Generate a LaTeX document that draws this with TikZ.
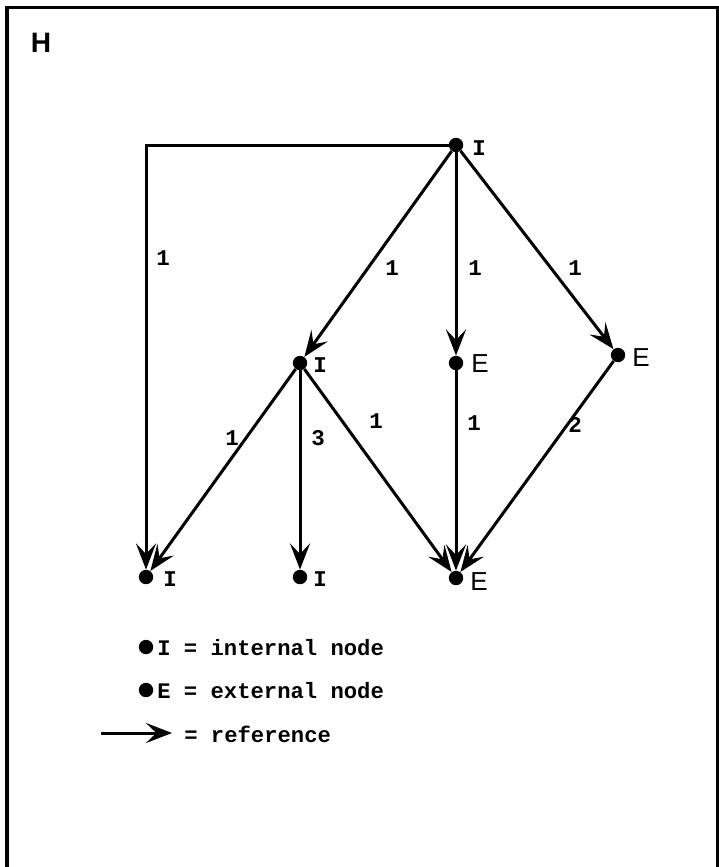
\documentclass[tikz,border=0pt]{standalone}
\usepackage{fontspec}
\setmainfont{Liberation Sans}
\setmonofont{Liberation Mono}
\usetikzlibrary{arrows.meta}
\tikzset{
  frame/.style={line width=0.075cm,draw=black},
  refline/.style={-{Stealth[length=6.5mm,width=5mm,inset=2.6mm]},line width=0.075cm,draw=black},
  vertex/.style={circle,fill=black,inner sep=0pt,minimum size=0.36cm},
  intlab/.style={inner sep=0pt,font=\ttfamily\bfseries\fontsize{16}{18}\selectfont},
  extlab/.style={inner sep=0pt,font=\fontsize{18.5}{21}\selectfont},
  weight/.style={inner sep=0pt,font=\ttfamily\bfseries\fontsize{16}{18}\selectfont},
  legend/.style={inner sep=0pt,anchor=west,font=\ttfamily\bfseries\fontsize{15.8}{18}\selectfont}
}
\begin{document}
\begin{tikzpicture}[x=0.025cm,y=-0.025cm]
  \useasboundingbox (0,0) rectangle (718,867);
  \draw[frame] (7,867) -- (7,8) -- (717,8) -- (717,867);
  \node[inner sep=0pt,font=\bfseries\fontsize{20}{22}\selectfont] (title) at (41,43) {H};

  % nodes of the graph
  \node[vertex] (top) at (456,145) {};
  \node[vertex] (mI) at (300,363) {};
  \node[vertex] (mE) at (456,363) {};
  \node[vertex] (rE) at (618,355) {};
  \node[vertex] (bI) at (146,577) {};
  \node[vertex] (bmI) at (300,577) {};
  \node[vertex] (bE) at (456,578) {};

  \node[intlab] (topl) at (479,148) {I};
  \node[intlab] (mIl) at (320,365) {I};
  \node[extlab] (mEl) at (480,364) {E};
  \node[extlab] (rEl) at (641,358) {E};
  \node[intlab] (bIl) at (170,579) {I};
  \node[intlab] (bmIl) at (320,579) {I};
  \node[extlab] (bEl) at (479,582) {E};

  % references
  \draw[refline] (top) -| (bI);
  \draw[refline] (top) -- (mI);
  \draw[refline] (top) -- (mE);
  \draw[refline] (top) -- (rE);
  \draw[refline] (mI) -- (bI);
  \draw[refline] (mI) -- (bmI);
  \draw[refline] (mI) -- (bE);
  \draw[refline] (mE) -- (bE);
  \draw[refline] (rE) -- (bE);

  \node[weight] (w1) at (163,258) {1};
  \node[weight] (w2) at (392,268) {1};
  \node[weight] (w3) at (475,268) {1};
  \node[weight] (w4) at (575,268) {1};
  \node[weight] (w5) at (232,438) {1};
  \node[weight] (w6) at (318,438) {3};
  \node[weight] (w7) at (376,421) {1};
  \node[weight] (w8) at (474,423) {1};
  \node[weight] (w9) at (575,425) {2};

  % legend
  \node[vertex] (kI) at (146,647) {};
  \node[legend] (kIt) at (157,648) {I = internal node};
  \node[vertex] (kE) at (146,690) {};
  \node[legend] (kEt) at (157,691) {E = external node};
  \coordinate (ka) at (101,733);
  \coordinate (kb) at (172,733);
  \draw[refline] (ka) -- (kb);
  \node[legend] (kRt) at (184,734) {= reference};
\end{tikzpicture}
\end{document}
